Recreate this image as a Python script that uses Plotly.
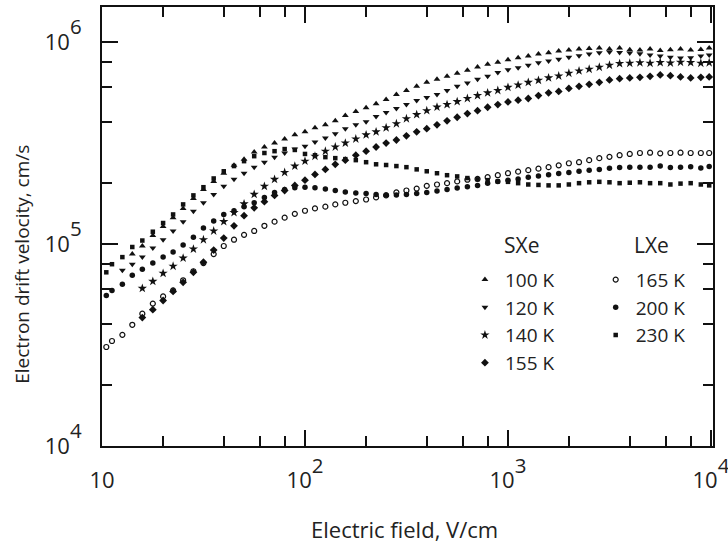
import plotly.graph_objects as go

# Electric field grid (V/cm)
E_FIELD = [10.5, 11.2, 12.6, 14.1, 15.8, 17.8, 20.0, 22.4, 25.1, 28.2, 31.6, 35.5, 39.8, 44.7, 50.1,
           56.2, 63.1, 70.8, 79.4, 89.1, 100, 112, 126, 141, 158, 178, 200, 224, 251, 282, 316, 355,
           398, 447, 501, 562, 631, 708, 794, 891, 1000, 1122, 1259, 1413, 1585, 1778, 1995, 2239,
           2512, 2818, 3162, 3548, 3981, 4467, 5012, 5623, 6310, 7079, 7943, 8913, 9800]

# Solid xenon (SXe)
V_100K = [8.91e4, 9.77e4, 1.10e5, 1.22e5, 1.35e5, 1.50e5, 1.68e5, 1.86e5, 2.04e5, 2.24e5,
          2.45e5, 2.63e5, 2.85e5, 3.02e5, 3.16e5, 3.31e5, 3.47e5, 3.59e5, 3.76e5, 3.89e5,
          4.07e5, 4.32e5, 4.52e5, 4.73e5, 4.95e5, 5.19e5, 5.50e5, 5.75e5, 6.03e5, 6.31e5,
          6.53e5, 6.76e5, 7.00e5, 7.24e5, 7.52e5, 7.76e5, 7.94e5, 8.17e5, 8.36e5, 8.51e5,
          8.71e5, 8.83e5, 9.02e5, 9.12e5, 9.23e5, 9.29e5, 9.33e5, 9.23e5, 9.33e5, 9.16e5,
          9.12e5, 9.23e5, 9.08e5, 9.16e5, 9.23e5, 9.12e5, 9.18e5, 9.33e5]
V_120K = [7.41e4, 7.94e4, 8.61e4, 9.55e4, 1.05e5, 1.16e5, 1.29e5, 1.45e5, 1.60e5, 1.76e5,
          1.93e5, 2.09e5, 2.24e5, 2.40e5, 2.54e5, 2.69e5, 2.82e5, 2.95e5, 3.05e5, 3.20e5,
          3.35e5, 3.51e5, 3.72e5, 3.89e5, 4.03e5, 4.27e5, 4.47e5, 4.68e5, 4.90e5, 5.13e5,
          5.31e5, 5.50e5, 5.75e5, 6.03e5, 6.27e5, 6.53e5, 6.76e5, 7.05e5, 7.28e5, 7.46e5,
          7.67e5, 7.89e5, 8.04e5, 8.22e5, 8.41e5, 8.55e5, 8.71e5, 8.85e5, 8.91e5, 8.87e5,
          8.81e5, 8.75e5, 8.61e5, 8.51e5, 8.41e5, 8.32e5, 8.36e5, 8.51e5, 8.61e5]
V_140K = [6.03e4, 6.53e4, 7.16e4, 7.76e4, 8.51e4, 9.44e4, 1.05e5, 1.16e5, 1.29e5, 1.43e5,
          1.58e5, 1.76e5, 1.93e5, 2.09e5, 2.26e5, 2.43e5, 2.57e5, 2.72e5, 2.88e5, 3.02e5,
          3.16e5, 3.31e5, 3.47e5, 3.59e5, 3.76e5, 3.94e5, 4.17e5, 4.37e5, 4.57e5, 4.76e5,
          4.90e5, 5.07e5, 5.25e5, 5.43e5, 5.60e5, 5.75e5, 5.96e5, 6.12e5, 6.31e5, 6.46e5,
          6.64e5, 6.79e5, 7.00e5, 7.19e5, 7.33e5, 7.50e5, 7.67e5, 7.82e5, 7.85e5, 7.89e5,
          7.85e5, 7.91e5, 7.87e5, 7.94e5, 7.91e5, 7.85e5, 7.89e5]
V_155K = [4.32e4, 4.73e4, 5.25e4, 5.82e4, 6.46e4, 7.24e4, 8.13e4, 9.33e4, 1.07e5, 1.23e5,
          1.38e5, 1.51e5, 1.62e5, 1.74e5, 1.84e5, 1.95e5, 2.07e5, 2.21e5, 2.34e5, 2.48e5,
          2.60e5, 2.75e5, 2.88e5, 3.02e5, 3.16e5, 3.27e5, 3.43e5, 3.59e5, 3.72e5, 3.89e5,
          4.07e5, 4.24e5, 4.42e5, 4.57e5, 4.75e5, 4.90e5, 5.05e5, 5.15e5, 5.25e5, 5.43e5,
          5.60e5, 5.69e5, 5.89e5, 6.03e5, 6.17e5, 6.31e5, 6.49e5, 6.58e5, 6.64e5, 6.68e5,
          6.76e5, 6.87e5, 6.81e5, 6.71e5, 6.64e5, 6.68e5, 6.71e5]

# Liquid xenon (LXe)
V_165K = [3.09e4, 3.31e4, 3.55e4, 3.98e4, 4.52e4, 5.07e4, 5.50e4, 5.89e4, 6.61e4, 7.33e4,
          8.04e4, 8.91e4, 9.77e4, 1.05e5, 1.11e5, 1.16e5, 1.23e5, 1.29e5, 1.35e5, 1.41e5,
          1.46e5, 1.50e5, 1.53e5, 1.57e5, 1.60e5, 1.63e5, 1.66e5, 1.70e5, 1.74e5, 1.80e5,
          1.84e5, 1.88e5, 1.94e5, 1.97e5, 2.00e5, 2.04e5, 2.08e5, 2.10e5, 2.14e5, 2.19e5,
          2.24e5, 2.28e5, 2.32e5, 2.36e5, 2.40e5, 2.45e5, 2.51e5, 2.54e5, 2.60e5, 2.66e5,
          2.70e5, 2.75e5, 2.79e5, 2.82e5, 2.83e5, 2.81e5, 2.82e5, 2.83e5, 2.82e5, 2.82e5, 2.82e5]
V_200K = [5.56e4, 5.89e4, 6.31e4, 7.00e4, 7.50e4, 8.04e4, 8.61e4, 9.12e4, 9.89e4, 1.08e5,
          1.20e5, 1.30e5, 1.40e5, 1.46e5, 1.53e5, 1.60e5, 1.70e5, 1.80e5, 1.86e5, 1.90e5,
          1.91e5, 1.90e5, 1.87e5, 1.84e5, 1.81e5, 1.79e5, 1.78e5, 1.76e5, 1.75e5, 1.75e5,
          1.76e5, 1.78e5, 1.80e5, 1.83e5, 1.86e5, 1.89e5, 1.92e5, 1.95e5, 2.00e5, 2.04e5,
          2.07e5, 2.10e5, 2.14e5, 2.17e5, 2.20e5, 2.23e5, 2.26e5, 2.29e5, 2.32e5, 2.34e5,
          2.37e5, 2.39e5, 2.40e5, 2.40e5, 2.40e5, 2.43e5, 2.39e5, 2.40e5, 2.41e5, 2.38e5, 2.42e5]
V_230K = [7.24e4, 7.94e4, 8.61e4, 9.66e4, 1.04e5, 1.15e5, 1.27e5, 1.40e5, 1.57e5, 1.74e5,
          1.91e5, 2.11e5, 2.29e5, 2.43e5, 2.57e5, 2.72e5, 2.82e5, 2.88e5, 2.95e5, 2.92e5,
          2.79e5, 2.75e5, 2.69e5, 2.66e5, 2.63e5, 2.60e5, 2.54e5, 2.48e5, 2.46e5, 2.43e5,
          2.40e5, 2.34e5, 2.29e5, 2.24e5, 2.19e5, 2.16e5, 2.12e5, 2.09e5, 2.07e5, 2.04e5,
          2.03e5, 2.00e5, 1.97e5, 1.96e5, 1.95e5, 1.95e5, 1.97e5, 2.00e5, 2.02e5, 2.03e5,
          2.02e5, 2.00e5, 2.01e5, 2.02e5, 2.00e5, 2.00e5, 1.97e5, 1.99e5, 2.00e5, 1.97e5, 1.95e5]

X_TICKS = [10, 100, 1000, 10000]
X_EXP = ["", "2", "3", "4"]
Y_TICKS = [1e4, 1e5, 1e6]
Y_EXP = ["4", "5", "6"]
X_MINOR = [20, 40, 60, 80, 200, 400, 600, 800, 2000, 4000, 6000, 8000]
Y_MINOR = [2e4, 4e4, 6e4, 8e4, 2e5, 4e5, 6e5, 8e5]


def power_label(exp):
    if not exp:
        return "10"
    return "10<sup><sup><span style='font-size:190%'>" + exp + "</span></sup></sup>"


FONT = "Open Sans"
INK = "#111111"
TXT = "#222222"

series = [
    ("100 K", V_100K, "triangle-up", 6, "legend"),
    ("120 K", V_120K, "triangle-down", 6, "legend"),
    ("140 K", V_140K, "star", 7, "legend"),
    ("155 K", V_155K, "diamond", 6, "legend"),
    ("165 K", V_165K, "circle-open", 5, "legend2"),
    ("200 K", V_200K, "circle", 5.5, "legend2"),
    ("230 K", V_230K, "square", 4.5, "legend2"),
]

fig = go.Figure()
for name, vals, sym, size, leg in series:
    xs = E_FIELD[len(E_FIELD) - len(vals):]
    fig.add_trace(go.Scatter(
        x=xs, y=vals, mode="markers", name=name, legend=leg, cliponaxis=False,
        marker=dict(symbol=sym, size=size, color=INK,
                    line=dict(color=INK, width=1.2 if sym == "circle-open" else 0)),
    ))

axis_common = dict(
    type="log", showline=True, linecolor=INK, linewidth=2, mirror="ticks",
    ticks="inside", ticklen=16, tickwidth=1.6, tickcolor=INK,
    showgrid=False, zeroline=False, automargin=False, ticklabeloverflow="allow",
    tickfont=dict(family=FONT, size=22, color=TXT),
)

fig.update_xaxes(**axis_common, range=[1, 4.01], tickvals=X_TICKS,
                 ticktext=[power_label(e) for e in X_EXP], ticklabelstandoff=14,
                 minor=dict(tickvals=X_MINOR, ticks="inside", ticklen=10, tickwidth=1.6,
                            tickcolor=INK, showgrid=False))
fig.update_yaxes(**axis_common, range=[4, 6.173], tickvals=Y_TICKS,
                 ticktext=[power_label(e) for e in Y_EXP], ticklabelstandoff=14,
                 minor=dict(tickvals=Y_MINOR, ticks="inside", ticklen=10, tickwidth=1.6,
                            tickcolor=INK, showgrid=False))

legend_common = dict(
    bgcolor="rgba(0,0,0,0)", borderwidth=0, yanchor="top", xanchor="left",
    font=dict(family=FONT, size=19, color=TXT), itemclick=False,
)

fig.update_layout(
    template="none",
    width=728, height=547,
    margin=dict(l=102, r=15, t=7, b=101),
    paper_bgcolor="white", plot_bgcolor="white",
    font=dict(family=FONT, color=TXT),
    showlegend=True,
    legend=dict(**legend_common, x=0.594, y=0.422),
    legend2=dict(**legend_common, x=0.808, y=0.422),
    annotations=[
        dict(text="SXe", x=0.686, y=0.458, xref="paper", yref="paper", showarrow=False,
             font=dict(family=FONT, size=21, color=TXT), xanchor="center", yanchor="middle"),
        dict(text="LXe", x=0.90, y=0.458, xref="paper", yref="paper", showarrow=False,
             font=dict(family=FONT, size=21, color=TXT), xanchor="center", yanchor="middle"),
        dict(text="Electric field, V/cm", x=0.495, y=-0.19, xref="paper", yref="paper",
             showarrow=False, font=dict(family=FONT, size=22, color=TXT),
             xanchor="center", yanchor="middle"),
        dict(text="Electron drift velocity, cm/s", x=-0.131, y=0.415, xref="paper", yref="paper",
             showarrow=False, textangle=-90, font=dict(family=FONT, size=19, color=TXT),
             xanchor="center", yanchor="middle"),
    ],
)

fig.write_html("out.html")
